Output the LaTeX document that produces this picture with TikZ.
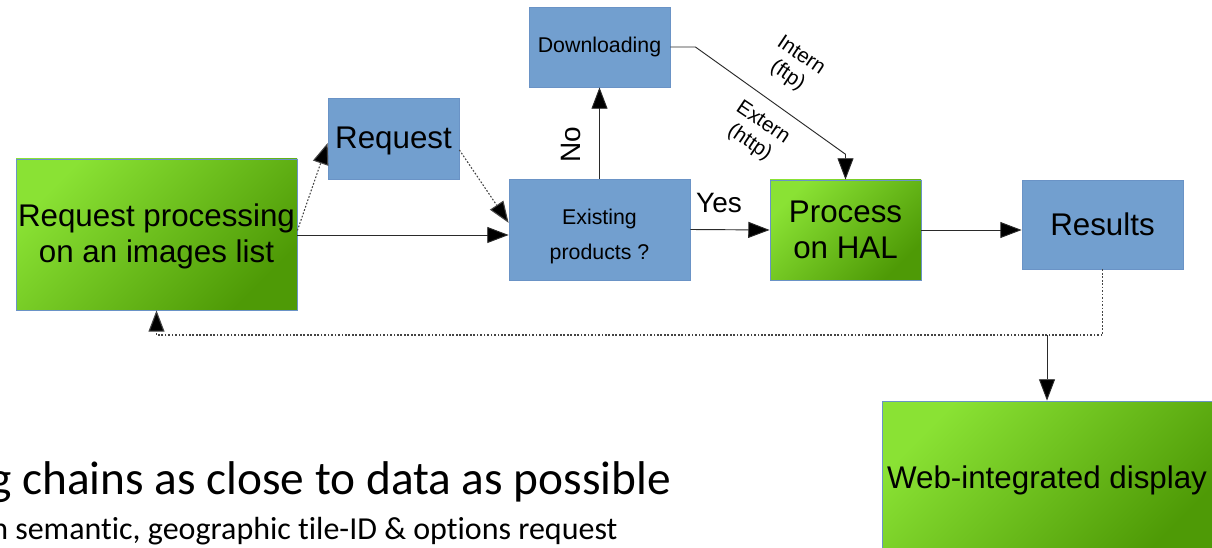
\documentclass[tikz,border=0pt]{standalone}
\usepackage{fontspec}
\setmainfont{Liberation Sans}
\newfontfamily\carl{Carlito}[Ligatures=NoCommon]
\usetikzlibrary{arrows.meta,calc}
\definecolor{boxblue}{HTML}{729FCF}
\definecolor{boxedge}{HTML}{6A93C6}
\definecolor{glight}{HTML}{8AE234}
\definecolor{gdark}{HTML}{4E9A06}
\definecolor{linegray}{HTML}{2A2A2A}
\definecolor{dotgray}{HTML}{444444}
\tikzset{
  box/.style={draw=boxedge, line width=0.6pt, inner sep=0pt, align=center, text=black},
  bluebox/.style={box, fill=boxblue},
  greenbox/.style={box, top color=glight, bottom color=gdark, shading angle=45},
  bigtxt/.style={font=\fontsize{23.5}{27}\selectfont},
  smalltxt/.style={font=\fontsize{16}{26}\selectfont},
  lbl/.style={inner sep=0pt, align=center, text=black},
  tip/.style={-{Triangle[length=16pt,width=12pt,fill=black]}},
  arr/.style={draw=linegray, line width=0.7pt, tip},
  dotline/.style={draw=dotgray, line width=0.8pt, dash pattern=on 1.3pt off 1.3pt},
  dotarr/.style={dotline, tip}
}
\begin{document}
\begin{tikzpicture}[x=0.75pt, y=-0.75pt]
\useasboundingbox (0,0) rectangle (1212,548);
\clip (0,0) rectangle (1212,548);
\fill[white] (0,0) rectangle (1212,548);

% nodes
\node[greenbox, minimum width=210.75pt, minimum height=113.25pt,
  label={[lbl, bigtxt, yshift=-1.5pt]center:{Request processing\\on an images list}}] (rp) at (156.5,234.5) {};
\node[bluebox, minimum width=98.25pt, minimum height=60.75pt,
  label={[lbl, bigtxt, yshift=-2pt]center:{Request}}] (req) at (393.5,138.5) {};
\node[bluebox, smalltxt, minimum width=105.75pt, minimum height=60pt] (dl) at (599.5,47) {Downloading};
\node[bluebox, minimum width=135.75pt, minimum height=75.75pt,
  label={[lbl, smalltxt, yshift=-5pt]center:{Existing\\products ?}}] (ex) at (599.5,229.5) {};
\node[greenbox, bigtxt, minimum width=113.25pt, minimum height=75pt] (proc) at (845.5,230) {Process\\on HAL};
\node[bluebox, bigtxt, minimum width=120.75pt, minimum height=66.75pt] (res) at (1102.5,224.5) {Results};
\node[greenbox, bigtxt, minimum width=247.5pt, minimum height=119.25pt] (web) at (1047,480.5) {Web-integrated display};

% connectors
\draw[arr] (rp.east |- 0,235) -- (ex.west |- 0,235);
\draw[dotarr] ([yshift=3pt]rp.east) -- ([yshift=-3.4pt]req.west);
\draw[dotarr] ([yshift=-8.6pt]req.east) -- ([yshift=5pt]ex.west);
\draw[arr] (ex.north) -- (dl.south);
\node[lbl, rotate=90, font=\fontsize{21}{24}\selectfont] (no) at (571,145) {No};
\draw[arr] (dl.east) -- ++(25,0) -- ([yshift=19pt]proc.north) -- (proc.north);
\node[lbl, rotate=-34, font=\fontsize{15.5}{18}\selectfont] (intern) at (794,66) {Intern\\(ftp)};
\node[lbl, rotate=-34, font=\fontsize{15.5}{18}\selectfont] (extern) at (756,133) {Extern\\(http)};
\draw[arr] (ex.east) -- (proc.west);
\node[lbl, font=\fontsize{21}{24}\selectfont] (yes) at (719,203) {Yes};
\draw[arr] (proc.east) -- (proc.east -| res.west);

\coordinate (j) at (1047,335);
\coordinate (k) at (156.5,335);
\draw[dotline] (res.south) |- (j);
\draw[arr] (j) -- (web.north);
\draw[dotarr] (j) -- (k) -- (rp.south);

% bottom text
\node[lbl, anchor=base west, font=\carl\fontsize{35.5}{40}\selectfont] (t1) at (-11,494) {g chains as close to data as possible};
\node[lbl, anchor=base west, font=\carl\fontsize{24}{28}\selectfont] (t2) at (-9,539) {n semantic, geographic tile-ID \& options request};
\end{tikzpicture}
\end{document}
